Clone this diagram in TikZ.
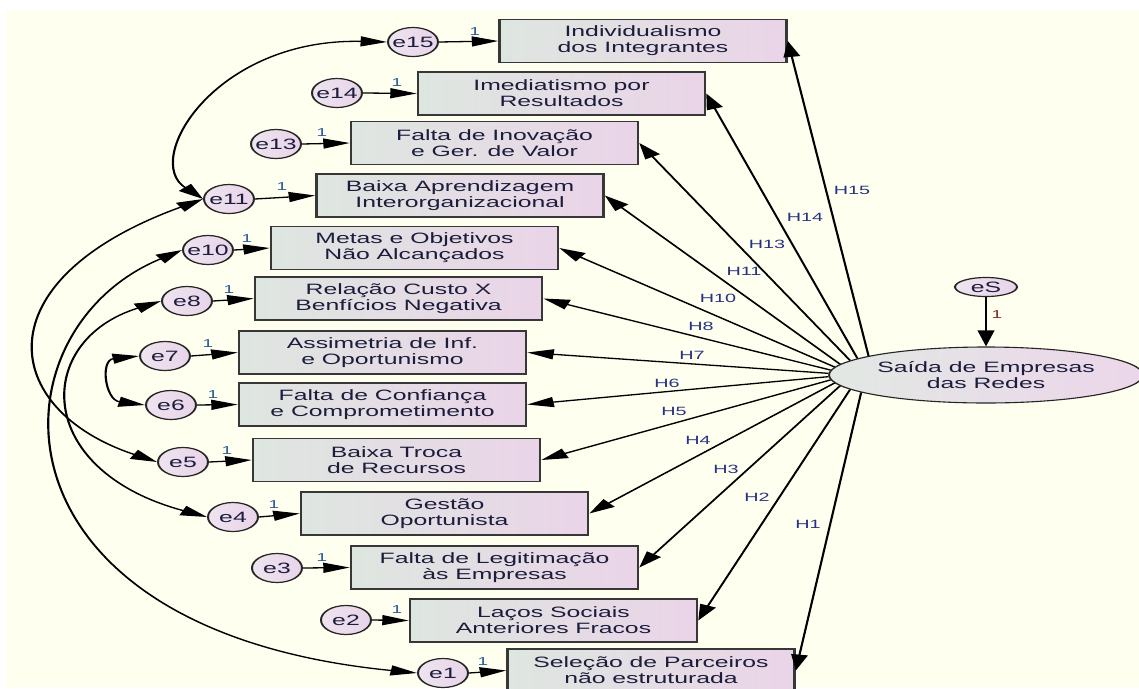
\documentclass[tikz,border=0pt]{standalone}
\usepackage{fontspec}
\setmainfont{Liberation Sans}
\usetikzlibrary{arrows.meta,shapes.geometric}
\definecolor{cream}{RGB}{255,255,240}
\definecolor{boxL}{RGB}{222,230,224}
\definecolor{boxR}{RGB}{234,212,232}
\definecolor{boxline}{RGB}{55,55,55}
\definecolor{errL}{RGB}{238,228,238}
\definecolor{errR}{RGB}{232,212,234}
\definecolor{mainL}{RGB}{226,232,228}
\definecolor{mainR}{RGB}{236,214,234}
\definecolor{txt}{RGB}{28,28,60}
\definecolor{hcol}{RGB}{40,50,130}
\definecolor{onecol}{RGB}{40,90,160}
\definecolor{redone}{RGB}{140,40,40}
\begin{document}
\begin{tikzpicture}[x=1pt,y=-1pt]
\useasboundingbox (0,0) rectangle (1139,688);
\fill[white] (0,0) rectangle (1139,688);
\fill[cream] (6,10) rectangle (1139,687);
\begin{scope}[x=0.60606pt, y=-1pt, transform canvas={xscale=1.65},
  box/.style={rectangle, draw=boxline, line width=1.5pt, left color=boxL, right color=boxR,
    minimum width=174pt, minimum height=43pt, inner sep=0pt, align=center, text=txt,
    font=\fontsize{15}{16}\selectfont},
  err/.style={ellipse, draw=black!85, line width=1.2pt, left color=errL, right color=errR,
    minimum width=30.3pt, minimum height=29pt, inner sep=0pt, text=txt,
    font=\fontsize{15}{16}\selectfont},
  mainell/.style={ellipse, draw=black!85, line width=1.1pt, left color=mainL, right color=mainR,
    minimum width=190.3pt, minimum height=56pt, inner sep=0pt, align=center, text=txt,
    font=\fontsize{15}{16.5}\selectfont},
  hl/.style={text=hcol, font=\fontsize{12}{12}\selectfont, inner sep=0pt},
  one/.style={text=onecol, font=\fontsize{11.5}{11.5}\selectfont, inner sep=0pt},
  arr/.style={line width=1.3pt, -{Triangle[length=16pt,width=10pt]}},
  cov/.style={line width=1.3pt, {Triangle[length=16pt,width=10pt]}-{Triangle[length=16pt,width=10pt]}}
]
% boxes
\node[box] (B15) at (643,41) {Individualismo\\dos Integrantes};
\node[box] (B14) at (561.5,93.5) {Imediatismo por\\Resultados};
\node[box] (B13) at (494.5,143) {Falta de Inovação\\e Ger. de Valor};
\node[box] (B11) at (460,195.5) {Baixa Aprendizagem\\Interorganizacional};
\node[box] (B10) at (414.5,248) {Metas e Objetivos\\Não Alcançados};
\node[box] (B8) at (398.5,298.5) {Relação Custo X\\Benfícios Negativa};
\node[box] (B7) at (382.5,352.5) {Assimetria de Inf.\\e Oportunismo};
\node[box] (B6) at (382.5,404.5) {Falta de Confiança\\e Comprometimento};
\node[box] (B5) at (396.5,460) {Baixa Troca\\de Recursos};
\node[box] (B4) at (444.5,513.5) {Gestão\\Oportunista};
\node[box] (B3) at (494.5,567.5) {Falta de Legitimação\\às Empresas};
\node[box] (B2) at (553.5,620.5) {Laços Sociais\\Anteriores Fracos};
\node[box] (B1) at (651,670.5) {Seleção de Parceiros\\não estruturada};
% error terms
\node[err] (e15) at (413,42) {\makebox[0pt]{e15}};
\node[err] (e14) at (337,93) {\makebox[0pt]{e14}};
\node[err] (e13) at (276,144) {\makebox[0pt]{e13}};
\node[err] (e11) at (229,199) {\makebox[0pt]{e11}};
\node[err] (e10) at (208,250) {\makebox[0pt]{e10}};
\node[err] (e8) at (187,301) {\makebox[0pt]{e8}};
\node[err] (e7) at (165,356) {\makebox[0pt]{e7}};
\node[err] (e6) at (171,405) {\makebox[0pt]{e6}};
\node[err] (e5) at (183,462) {\makebox[0pt]{e5}};
\node[err] (e4) at (233,517) {\makebox[0pt]{e4}};
\node[err] (e3) at (277,568) {\makebox[0pt]{e3}};
\node[err] (e2) at (346,620) {\makebox[0pt]{e2}};
\node[err] (e1) at (443,673) {\makebox[0pt]{e1}};
% main latent
\node[mainell] (S) at (986,375) {Saída de Empresas\\das Redes};
\node[err, minimum width=37.6pt, minimum height=19pt] (eS) at (986,287) {\makebox[0pt]{eS}};
\draw[arr] (eS) -- (S);
\node[text=redone, font=\fontsize{11.5}{11.5}\selectfont, inner sep=0pt] (lS) at (997,315) {1};
% error -> box arrows
\foreach \i in {15,14,13,11,10,8,7,6,5,4,3,2,1}{
  \draw[arr] (e\i.east) -- (B\i.west);
}
\node[one] (l15) at (475,32) {1};
\node[one] (l14) at (397,83) {1};
\node[one] (l13) at (322,133) {1};
\node[one] (l11) at (282,187) {1};
\node[one] (l10) at (247,239) {1};
\node[one] (l8) at (229,290) {1};
\node[one] (l7) at (208,344) {1};
\node[one] (l6) at (213,395) {1};
\node[one] (l5) at (227,451) {1};
\node[one] (l4) at (274,505) {1};
\node[one] (l3) at (322,558) {1};
\node[one] (l2) at (397,610) {1};
\node[one] (l1) at (483,662) {1};
% structural paths
\draw[arr] (S.165.2) -- (B15.east);
\draw[arr] (S.168.2) -- (B14.east);
\draw[arr] (S.170.9) -- (B13.east);
\draw[arr] (S.173.2) -- (B11.east);
\draw[arr] (S.175.4) -- (B10.east);
\draw[arr] (S.177.4) -- (B8.east);
\draw[arr] (S.179.4) -- (B7.east);
\draw[arr] (S.181.4) -- (B6.east);
\draw[arr] (S.183.4) -- (B5.east);
\draw[arr] (S.185.5) -- (B4.east);
\draw[arr] (S.187.7) -- (B3.east);
\draw[arr] (S.190.2) -- (B2.east);
\draw[arr] (S.193) -- (B1.east);
\node[hl] (h15) at (852,190) {H15};
\node[hl] (h14) at (805,217) {H14};
\node[hl] (h13) at (767,244) {H13};
\node[hl] (h11) at (744,271) {H11};
\node[hl] (h10) at (718,298) {H10};
\node[hl] (h8) at (701,326) {H8};
\node[hl] (h7) at (692,355) {H7};
\node[hl] (h6) at (667,383) {H6};
\node[hl] (h5) at (674,411) {H5};
\node[hl] (h4) at (698,440) {H4};
\node[hl] (h3) at (726,469) {H3};
\node[hl] (h2) at (757,497) {H2};
\node[hl] (h1) at (808,524) {H1};
% covariances
\draw[cov] (e15.west) .. controls (215,38) and (142,160) .. (e11.west);
\draw[cov] (e11.west) .. controls (-20,280) and (0,410) .. (e5.west);
\draw[cov] (e10.west) .. controls (-12,330) and (-22,630) .. (e1.west);
\draw[cov] (e8.west) .. controls (34,340) and (32,470) .. (e4.west);
\draw[cov] (e7.west) .. controls (100,360) and (105,400) .. (e6.west);
\end{scope}
\end{tikzpicture}
\end{document}
